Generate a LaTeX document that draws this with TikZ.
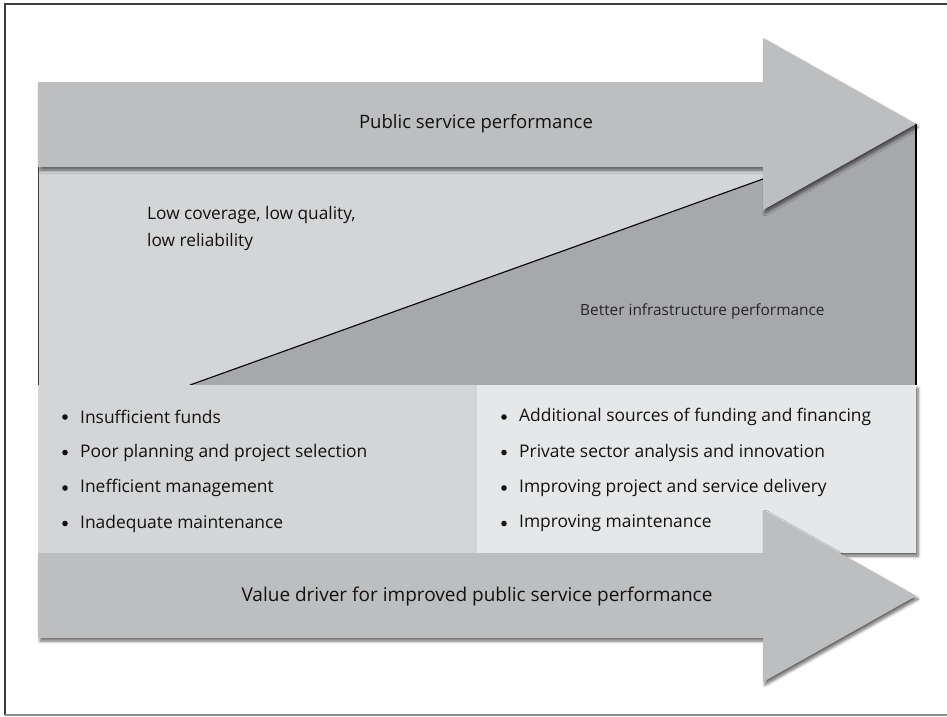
\documentclass[tikz,border=0pt]{standalone}
\usepackage{fontspec}
\setmainfont{Open Sans}
\usetikzlibrary{shadows.blur}
\definecolor{arrowgray}{HTML}{BDBEC0}
\definecolor{lightpanel}{HTML}{D4D5D7}
\definecolor{darkpanel}{HTML}{A7A8AB}
\definecolor{palepanel}{HTML}{E6E7E8}
\definecolor{inkcol}{HTML}{111111}
\definecolor{framecol}{HTML}{3C3C3C}
\begin{document}
\begin{tikzpicture}[x=1pt,y=-1pt,
  softshadow/.style={blur shadow={shadow xshift=2pt, shadow yshift=-3pt,
      shadow blur steps=6, shadow blur radius=3pt, shadow opacity=60}},
  bigarrow/.style={fill=arrowgray, draw=none, softshadow},
  heading/.style={font=\fontsize{18.5}{22}\selectfont, text=inkcol, inner sep=0pt},
  bodytext/.style={font=\fontsize{17.3}{27}\selectfont, text=inkcol, inner sep=0pt},
  bulletitem/.style={font=\fontsize{17.4}{20}\selectfont, text=inkcol,
      anchor=west, inner sep=0pt},
  dot/.style={circle, fill=inkcol, inner sep=0pt, minimum size=5.6pt},
  edgeline/.style={draw=black, line width=1.1pt}]
\useasboundingbox (0,0) rectangle (947,716);

% outer frame
\draw[framecol, line width=1.6pt] (5,715) -- (5,4) -- (950,4);
\draw[black!45, line width=1.4pt] (5,715) -- (950,715);

% upper band: low performance area and improved-performance wedge
\fill[lightpanel] (38,167) rectangle (916,385);
\fill[darkpanel] (190,385) -- (916,124) -- (916,385) -- cycle;
\draw[edgeline] (190,385) -- (916,124);
\draw[edgeline] (916,124) -- (916,385);
\draw[black!75, line width=0.9pt] (38,124) -- (38,385);

% top arrow
\path[bigarrow] (38,82) -- (763,82) -- (763,38) -- (916,124) -- (763,210)
  -- (763,167) -- (38,167) -- cycle;

% middle panels
\path[fill=palepanel, softshadow] (477,385) rectangle (916,553);
\fill[lightpanel] (38,385) rectangle (477,553);

% bottom arrow
\path[bigarrow] (38,553) -- (763,553) -- (763,510) -- (916,596) -- (763,682)
  -- (763,638) -- (38,638) -- cycle;

% labels
\node[heading] (top) at (476,124) {Public service performance};
\node[heading, font=\fontsize{19}{22}\selectfont] (bottom) at (477,596)
  {Value driver for improved public service performance};
\node[bodytext, anchor=north west, align=left] (low) at (147,206)
  {Low coverage, low quality,\\low reliability};
\node[bodytext, font=\fontsize{15.4}{20}\selectfont, text=black!85, anchor=west]
  (better) at (580,311) {Better infrastructure performance};

% problem list
\node[dot] (pb1) at (65,417) {};
\node[dot] (pb2) at (65,452.5) {};
\node[dot] (pb3) at (65,488) {};
\node[dot] (pb4) at (65,523.5) {};
\node[bulletitem] (p1) at (80,417) {Insufficient funds};
\node[bulletitem] (p2) at (80,452.5) {Poor planning and project selection};
\node[bulletitem] (p3) at (80,488) {Inefficient management};
\node[bulletitem] (p4) at (80,523.5) {Inadequate maintenance};

% remedy list
\node[dot] (rb1) at (504,417) {};
\node[dot] (rb2) at (504,452.5) {};
\node[dot] (rb3) at (504,488) {};
\node[dot] (rb4) at (504,523.5) {};
\node[bulletitem] (r1) at (519,417) {Additional sources of funding and financing};
\node[bulletitem] (r2) at (519,452.5) {Private sector analysis and innovation};
\node[bulletitem] (r3) at (519,488) {Improving project and service delivery};
\node[bulletitem] (r4) at (519,523.5) {Improving maintenance};
\end{tikzpicture}
\end{document}
